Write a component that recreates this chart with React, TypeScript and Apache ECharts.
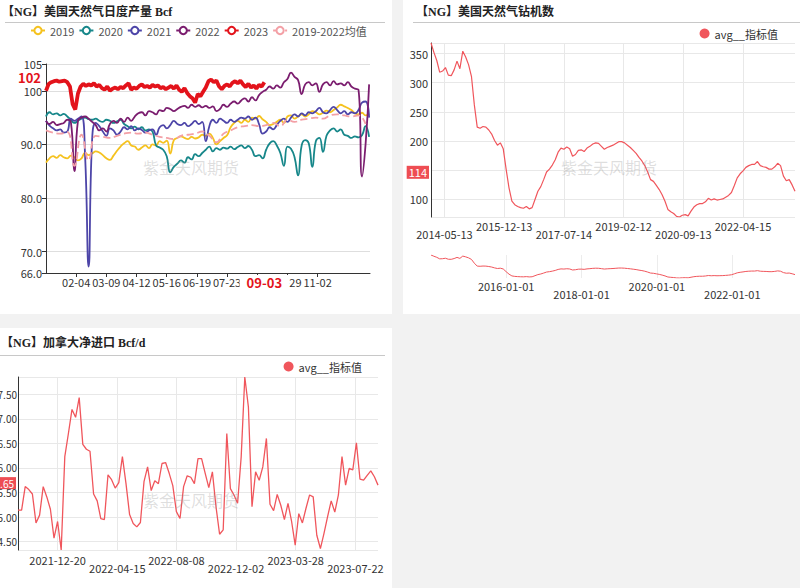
import React, { useEffect, useRef } from 'react';
import * as echarts from 'echarts';

const FONT = '"Noto Sans CJK SC", "Noto Sans", sans-serif';
const TITLE_FONT = '"Liberation Serif", "Noto Sans CJK SC", serif';
const WATERMARK = '紫金天风期货';
const LEGEND_NAME = 'avg__指标值';
const RED = '#f0565c';

// ---------- Panel 1: US daily gas production (Bcf) ----------
const prodTitle = '【NG】美国天然气日度产量 Bcf';
const prodSeriesNames = ['2019', '2020', '2021', '2022', '2023', '2019-2022均值'];
const prodColors = ['#f5c21f', '#17878a', '#4d45a8', '#7b1d6f', '#e3131b', '#f3a0a6'];
const prodTickLabels = ['02-04', '03-09', '04-12', '05-16', '06-19', '07-23', '08-26', '09-29', '11-02'];
const prodStepDays = 4;
const prod2019 = [
  86.6, 87.4, 87.8, 87.5, 88.0, 87.6, 87.4, 87.9, 87.6, 87.0,
  87.4, 88.4, 88.0, 88.3, 88.7, 88.5, 88.0, 87.4, 87.1, 87.9,
  88.8, 89.6, 90.2, 90.6, 89.8, 89.6, 89.0, 89.4, 89.8, 89.3,
  90.0, 89.8, 90.6, 90.3, 90.7, 88.3, 90.8, 91.2, 91.5, 91.2,
  91.0, 91.4, 91.1, 91.3, 91.8, 91.6, 92.0, 91.2, 90.0, 90.6,
  91.2, 91.7, 93.2, 94.0, 94.4, 94.0, 94.6, 94.2, 95.0, 94.8,
  95.3, 94.7, 94.2, 93.6, 93.8, 94.2, 94.6, 94.0, 95.2, 95.4,
  94.8, 95.2, 95.6, 95.2, 95.6, 96.2, 96.0, 95.6, 95.9, 96.3,
  96.0, 96.4, 96.9, 97.4, 97.1, 96.8, 96.4, 95.8, 95.6, 95.9,
  95.4, 95.7,
];
const prod2020 = [
  95.2, 96.0, 95.6, 95.8, 95.4, 95.7, 95.2, 94.6, 94.0, 94.4,
  94.8, 95.0, 94.7, 94.6, 94.8, 94.4, 94.2, 94.6, 94.4, 94.0,
  94.3, 94.6, 93.8, 93.4, 93.0, 93.3, 92.8, 93.2, 92.6, 92.8,
  92.4, 89.8, 89.4, 89.0, 87.8, 84.8, 85.8, 86.4, 87.0, 86.6,
  87.6, 87.2, 88.2, 87.8, 88.4, 89.0, 89.6, 88.7, 89.3, 89.0,
  89.4, 89.2, 89.6, 89.1, 89.5, 89.8, 89.3, 89.7, 89.0, 87.8,
  88.0, 87.4, 89.0, 90.2, 90.6, 89.8, 88.4, 86.0, 89.6, 89.2,
  87.6, 84.2, 89.8, 90.8, 90.2, 85.8, 90.6, 91.2, 88.6, 91.6,
  92.6, 93.0, 92.4, 92.8, 91.8, 91.6, 91.2, 91.5, 91.3, 91.7,
  93.4, 91.4,
];
const prod2021 = [
  94.4, 93.5, 93.0, 92.6, 92.8, 92.2, 92.4, 94.8, 94.4, 94.8,
  95.2, 88.0, 67.2, 91.0, 94.0, 93.4, 92.4, 91.6, 93.0, 92.6,
  91.8, 92.4, 93.2, 92.8, 93.4, 92.6, 93.0, 92.7, 92.2, 92.6,
  92.8, 91.8, 93.2, 93.6, 93.0, 93.6, 94.4, 93.8, 93.6, 94.0,
  93.4, 93.8, 94.4, 93.8, 94.2, 90.6, 93.4, 94.6, 94.0, 94.8,
  94.4, 94.0, 94.6, 94.2, 94.6, 95.0, 94.8, 95.2, 94.6, 95.0,
  93.8, 92.0, 92.4, 93.2, 92.8, 93.6, 94.4, 94.8, 94.2, 95.0,
  95.6, 95.2, 95.8, 95.4, 96.0, 95.8, 96.2, 96.8, 96.0, 95.8,
  96.4, 97.0, 96.4, 95.8, 96.2, 95.6, 96.0, 95.8, 96.4, 97.8,
  98.0, 95.0,
];
const prod2022 = [
  94.4, 93.8, 94.2, 93.6, 93.8, 94.0, 94.6, 94.2, 85.0, 94.4,
  95.0, 95.2, 94.8, 94.2, 93.6, 92.6, 93.0, 92.4, 93.8, 94.4,
  94.0, 94.8, 94.2, 95.0, 94.4, 95.2, 95.8, 96.0, 95.4, 96.2,
  96.0, 95.6, 96.4, 96.2, 96.8, 96.6, 96.2, 96.6, 97.0, 97.2,
  96.8, 97.4, 97.0, 97.3, 96.9, 97.2, 96.8, 97.1, 96.2, 96.6,
  97.4, 97.0, 97.6, 98.0, 97.6, 98.2, 98.6, 98.0, 98.8, 98.2,
  99.2, 99.8, 100.2, 100.8, 100.4, 101.0, 100.6, 101.6, 102.2, 103.4,
  102.6, 102.0, 99.4, 101.2, 101.6, 101.0, 101.4, 99.8, 101.2, 101.6,
  101.0, 101.8, 101.2, 101.4, 101.0, 101.6, 100.8, 100.4, 100.2, 84.0,
  90.0, 101.2,
];
const prod2023StepDays = 3;
const prod2023 = [
  100.0, 101.3, 101.6, 101.8, 101.9, 101.7, 101.8, 101.9, 101.6, 100.8,
  97.5, 96.5, 99.5, 100.8, 101.3, 100.9, 101.2, 101.0, 101.4, 100.8,
  101.1, 100.5, 100.2, 100.8, 100.0, 100.4, 100.6, 100.3, 100.7, 100.5,
  101.0, 101.4, 100.2, 100.6, 100.4, 100.9, 101.2, 100.7, 100.9, 100.6,
  101.1, 100.8, 101.0, 100.5, 100.7, 100.3, 100.6, 100.9, 100.4, 101.0,
  100.2, 99.8, 100.5, 99.6, 99.0, 98.6, 97.8, 99.4, 99.0, 99.8,
  100.6, 101.8, 102.1, 101.6, 101.9, 100.8, 100.3, 100.9, 101.2, 100.8,
  101.5, 101.8, 101.4, 101.9, 101.2, 100.7, 101.3, 100.6, 101.0, 100.4,
  101.1, 100.8, 101.6,
];
const prodAvgStepDays = 8;
const prodAvg = [
  92.6, 92.2, 92.0, 92.3, 86.0, 91.8, 87.0, 91.6, 91.4, 91.2,
  91.6, 92.0, 92.2, 92.0, 92.2, 91.8, 91.4, 91.2, 91.0, 91.6,
  91.8, 92.0, 92.4, 91.6, 90.4, 92.0, 92.6, 93.2, 93.4, 93.6,
  93.4, 93.6, 94.0, 93.4, 94.6, 94.2, 94.6, 94.8, 95.0, 94.8,
  95.4, 95.6, 95.4, 95.2, 95.4, 93.8,
];

// ---------- Panel 2: US gas rig count ----------
const rigTitle = '【NG】美国天然气钻机数';
const rigStart = '2014-01-03';
const rigStepDays = 28;
const rigCounts = [
  368, 352, 338, 318, 320, 326, 313, 312, 322, 337,
  324, 354, 344, 331, 311, 262, 224, 222, 225, 224,
  219, 212, 201, 193, 197, 187, 152, 120, 97, 91,
  88, 86, 85, 88, 84, 86, 100, 114, 122, 134,
  147, 152, 159, 168, 181, 188, 186, 190, 187, 174,
  177, 184, 185, 182, 188, 191, 195, 197, 196, 191,
  186, 189, 191, 193, 196, 199, 199, 197, 193, 189,
  184, 179, 172, 166, 158, 147, 134, 131, 124, 117,
  108, 97, 83, 79, 76, 71, 70, 73, 74, 72,
  80, 87, 91, 93, 93, 96, 102, 99, 101, 99,
  100, 101, 104, 107, 112, 124, 137, 144, 149, 155,
  158, 160, 160, 165, 158, 156, 155, 152, 152, 156,
  162, 158, 140, 132, 134, 125, 114,
];
const rigTickLabels = ['2014-05-13', '2015-12-13', '2017-07-14', '2019-02-12', '2020-09-13', '2022-04-15'];
const rigOverviewTickLabels = ['2016-01-01', '2018-01-01', '2020-01-01', '2022-01-01'];

// ---------- Panel 3: Canada net imports (Bcf/d) ----------
const canTitle = '【NG】加拿大净进口 Bcf/d';
const canStart = '2021-10-04';
const canStepDays = 7;
const canImports = [
  5.14, 5.14, 5.62, 5.56, 5.47, 4.88, 5.04, 5.62, 5.41, 5.16,
  4.57, 4.91, 4.33, 6.23, 6.70, 7.19, 7.03, 7.43, 6.48, 6.38,
  6.34, 5.47, 5.33, 4.97, 4.95, 5.86, 5.76, 5.59, 5.70, 6.23,
  5.68, 5.05, 4.87, 4.80, 4.89, 5.72, 6.02, 5.54, 5.74, 5.68,
  6.09, 6.11, 5.89, 5.64, 5.11, 4.97, 5.62, 5.84, 5.81, 5.68,
  6.19, 6.19, 5.89, 5.60, 5.92, 5.21, 4.65, 4.74, 6.70, 5.58,
  5.45, 5.28, 6.23, 7.85, 7.24, 5.21, 5.92, 5.75, 6.02, 6.60,
  5.26, 5.13, 5.46, 5.24, 4.95, 5.28, 4.91, 4.43, 5.07, 4.88,
  5.18, 5.45, 5.41, 4.63, 4.36, 4.67, 5.01, 5.33, 5.10, 5.45,
  6.23, 5.65, 5.99, 5.96, 6.51, 5.77, 5.75, 5.85, 5.94, 5.82,
  5.65,
];
const canTickLabels = ['2021-12-20', '2022-04-15', '2022-08-08', '2022-12-02', '2023-03-28', '2023-07-22'];

// ---------- helpers ----------
const DAY = 86400000;
function dayList(start: string, count: number): string[] {
  const t0 = Date.parse(start + 'T00:00:00Z');
  const out: string[] = [];
  for (let i = 0; i < count; i++) out.push(new Date(t0 + i * DAY).toISOString().slice(0, 10));
  return out;
}
const pairs = (vals: number[], step: number) => vals.map((v, i) => [i * step, v]);

function staggeredLabel(ticks: string[], lowerParity: number, margin: number) {
  return {
    interval: (_i: number, v: string) => ticks.includes(v),
    margin,
    formatter: (v: string) => {
      const k = ticks.indexOf(v);
      return (k % 2 === lowerParity ? '{lo|' : '{hi|') + v + '}';
    },
    rich: {
      hi: { lineHeight: 14, fontSize: 11, color: '#333', fontFamily: FONT },
      lo: { lineHeight: 30, fontSize: 11, color: '#333', fontFamily: FONT },
    },
  };
}

function titleOpt(text: string, left: number, top: number) {
  return {
    text, left, top, padding: 0,
    textStyle: { fontSize: 12, fontWeight: 'bold', color: '#222', fontFamily: TITLE_FONT },
  };
}
function underline(x1: number, x2: number, y: number) {
  return { type: 'line', silent: true, shape: { x1, y1: y, x2, y2: y }, style: { stroke: '#c8c8c8', lineWidth: 1 } };
}
function watermark(x: number, y: number) {
  return {
    type: 'text', silent: true, x, y, z: 100,
    style: { text: WATERMARK, fill: 'rgba(140,140,140,0.28)', fontSize: 16, fontFamily: FONT, align: 'center', verticalAlign: 'middle' },
  };
}
function redLegend(right: number, top: number) {
  return {
    right, top, padding: 0, icon: 'circle', itemWidth: 10, itemHeight: 10,
    textStyle: { fontSize: 11, color: '#333', fontFamily: FONT },
    data: [LEGEND_NAME],
  };
}
const HIDDEN_LINE = { width: 0, color: 'rgba(0,0,0,0)' };

// label box drawn as a rich fragment; `lift` raises it above the line by adding bottom padding
function pointerLabel(text: string, frag: any, lift: number) {
  return {
    show: true, position: 'start', distance: 2,
    padding: [0, 0, lift * 2, 0],
    formatter: () => '{a|' + text + '}',
    rich: { a: frag },
  };
}
function lastValueMark(text: string, value: number, lift: number, fontSize: number) {
  return {
    silent: true, symbol: ['none', 'none'], animation: false,
    lineStyle: HIDDEN_LINE,
    data: [{
      yAxis: value,
      label: pointerLabel(text, {
        color: '#fff', backgroundColor: '#ee4d53', fontSize, padding: [1, 2], fontFamily: FONT,
      }, lift),
    }],
  };
}

// ---------- options ----------
function prodOption() {
  const dates = dayList('2020-01-01', 366).map((d) => d.slice(5));
  const tickFn = (_i: number, v: string) => prodTickLabels.includes(v);
  const lastIdx = (prod2023.length - 1) * prod2023StepDays;
  const lastVal = prod2023[prod2023.length - 1];
  const seriesData = [
    pairs(prod2019, prodStepDays),
    pairs(prod2020, prodStepDays),
    pairs(prod2021, prodStepDays),
    pairs(prod2022, prodStepDays),
    pairs(prod2023, prod2023StepDays),
    pairs(prodAvg, prodAvgStepDays),
  ];
  const redFrag = { color: '#e3131b', fontWeight: 'bold', fontSize: 13, backgroundColor: '#fff', padding: [1, 3], fontFamily: FONT };
  const redFragWide = { ...redFrag, padding: [1, 7] };
  return {
    animation: false,
    title: titleOpt(prodTitle, 2, 6),
    legend: {
      left: 30, top: 25, padding: 0, itemWidth: 14, itemHeight: 9, itemGap: 4,
      textStyle: { fontSize: 11, color: '#555', fontFamily: FONT },
      data: prodSeriesNames,
    },
    grid: { left: 46, right: 22, top: 64, bottom: 41, outerBoundsMode: 'none' },
    graphic: [underline(5, 385, 22.5), watermark(191, 167)],
    xAxis: {
      type: 'category', data: dates, boundaryGap: false,
      axisLine: { lineStyle: { color: '#333' } },
      axisTick: { interval: tickFn, length: 4, lineStyle: { color: '#333' } },
      axisLabel: { interval: tickFn, margin: 3, fontSize: 11, color: '#333', fontFamily: FONT },
      splitLine: { show: false },
    },
    yAxis: {
      type: 'value', min: 66, max: 105,
      axisLine: { show: true, lineStyle: { color: '#333' } },
      axisTick: { show: true, length: 4 },
      axisLabel: { formatter: (v: number) => Number(v).toPrecision(3), fontSize: 11, color: '#333', margin: 4, fontFamily: FONT },
      splitLine: { lineStyle: { color: '#dedede' } },
    },
    series: prodSeriesNames.map((name, k) => {
      const is2023 = k === 4;
      const isAvg = k === 5;
      const s: any = {
        type: 'line', name, data: seriesData[k], showSymbol: false, symbol: 'emptyCircle', smooth: !is2023,
        lineStyle: { color: prodColors[k], width: is2023 ? 3.8 : 1.8, type: isAvg ? 'dashed' : 'solid' },
        itemStyle: { color: prodColors[k] },
        z: is2023 ? 5 : 2,
      };
      if (is2023) {
        s.markLine = {
          silent: true, symbol: ['none', 'none'], animation: false,
          lineStyle: HIDDEN_LINE,
          data: [
            { yAxis: lastVal, label: pointerLabel(lastVal.toPrecision(3), redFrag, 5) },
            { xAxis: lastIdx, label: pointerLabel(dates[lastIdx], redFragWide, 0) },
          ],
        };
      }
      return s;
    }),
  };
}

function rigOption() {
  const dates = dayList(rigStart, (rigCounts.length - 1) * rigStepDays + 1);
  const data = pairs(rigCounts, rigStepDays);
  const mainTick = (_i: number, v: string) => rigTickLabels.includes(v);
  const ovTick = (_i: number, v: string) => rigOverviewTickLabels.includes(v);
  const last = rigCounts[rigCounts.length - 1];
  return {
    animation: false,
    title: titleOpt(rigTitle, 13, 6),
    legend: redLegend(22, 28),
    graphic: [underline(10, 397, 22.5), watermark(206, 167)],
    grid: [
      { left: 28, right: 5, top: 43, bottom: 97, outerBoundsMode: 'none' },
      { left: 28, right: 5, top: 255, height: 23, outerBoundsMode: 'none' },
    ],
    xAxis: [
      {
        type: 'category', gridIndex: 0, data: dates, boundaryGap: false,
        axisLine: { show: false }, axisTick: { show: false },
        axisLabel: staggeredLabel(rigTickLabels, 0, 2),
        splitLine: { show: true, interval: mainTick, lineStyle: { color: '#e8e8e8' } },
      },
      {
        type: 'category', gridIndex: 1, data: dates, boundaryGap: false,
        axisLine: { show: false }, axisTick: { show: false },
        axisLabel: staggeredLabel(rigOverviewTickLabels, 1, 1),
        splitLine: { show: true, interval: ovTick, lineStyle: { color: '#ececec' } },
      },
    ],
    yAxis: [
      {
        type: 'value', gridIndex: 0, min: 'dataMin', max: 'dataMax',
        axisLine: { show: true, lineStyle: { color: '#333' } }, axisTick: { show: false },
        axisLabel: { fontSize: 11, color: '#333', margin: 3, showMinLabel: false, showMaxLabel: false, fontFamily: FONT },
        splitLine: { lineStyle: { color: '#e8e8e8' } },
      },
      {
        type: 'value', gridIndex: 1, min: 'dataMin', max: 'dataMax',
        axisLine: { show: false }, axisTick: { show: false }, axisLabel: { show: false }, splitLine: { show: false },
      },
    ],
    series: [
      {
        type: 'line', name: LEGEND_NAME, data, showSymbol: false, symbol: 'circle',
        lineStyle: { color: RED, width: 1.2 }, itemStyle: { color: RED },
        markLine: lastValueMark(String(last), last, 19, 11),
      },
      {
        type: 'line', xAxisIndex: 1, yAxisIndex: 1, data, showSymbol: false, silent: true,
        lineStyle: { color: RED, width: 1 }, itemStyle: { color: RED },
      },
    ],
  };
}

function canOption() {
  const dates = dayList(canStart, (canImports.length - 1) * canStepDays + 1);
  const data = pairs(canImports, canStepDays);
  const tickFn = (_i: number, v: string) => canTickLabels.includes(v);
  const last = canImports[canImports.length - 1];
  return {
    animation: false,
    title: titleOpt(canTitle, 1, 9),
    legend: redLegend(30, 33),
    graphic: [underline(0, 385, 27.5), watermark(191, 172)],
    grid: { left: 18, right: 14, top: 49, bottom: 38, outerBoundsMode: 'none' },
    xAxis: {
      type: 'category', data: dates, boundaryGap: false,
      axisLine: { show: false }, axisTick: { show: false },
      axisLabel: staggeredLabel(canTickLabels, 1, 3),
      splitLine: { show: true, interval: tickFn, lineStyle: { color: '#e8e8e8' } },
    },
    yAxis: {
      type: 'value', min: 'dataMin', max: 'dataMax', splitNumber: 7,
      axisLine: { show: true, lineStyle: { color: '#333' } }, axisTick: { show: false },
      axisLabel: { fontSize: 10, color: '#333', margin: 1, showMinLabel: false, showMaxLabel: false, fontFamily: FONT, formatter: (v: number) => Number(v).toFixed(2) },
      splitLine: { lineStyle: { color: '#e8e8e8' } },
    },
    series: [
      {
        type: 'line', name: LEGEND_NAME, data, showSymbol: false, symbol: 'circle',
        lineStyle: { color: RED, width: 1.3 }, itemStyle: { color: RED },
        markLine: lastValueMark(last.toFixed(2), last, 2, 10),
      },
    ],
  };
}

export default function App() {
  const r1 = useRef<HTMLDivElement>(null);
  const r2 = useRef<HTMLDivElement>(null);
  const r3 = useRef<HTMLDivElement>(null);

  useEffect(() => {
    const specs: [React.RefObject<HTMLDivElement>, any][] = [
      [r1, prodOption()],
      [r2, rigOption()],
      [r3, canOption()],
    ];
    const charts = specs.map(([r, opt]) => {
      const c = echarts.init(r.current as HTMLDivElement, null, { renderer: 'svg' });
      c.setOption(opt);
      return c;
    });
    return () => charts.forEach((c) => c.dispose());
  }, []);

  return (
    <div style={{ position: 'fixed', left: 0, top: 0, width: 800, height: 588, background: '#f2f2f2', overflow: 'hidden' }}>
      <div ref={r1} style={{ position: 'absolute', left: 0, top: 0, width: 392, height: 314, background: '#fff' }} />
      <div ref={r2} style={{ position: 'absolute', left: 403, top: 0, width: 397, height: 314, background: '#fff' }} />
      <div ref={r3} style={{ position: 'absolute', left: 0, top: 328, width: 392, height: 260, background: '#fff' }} />
    </div>
  );
}
